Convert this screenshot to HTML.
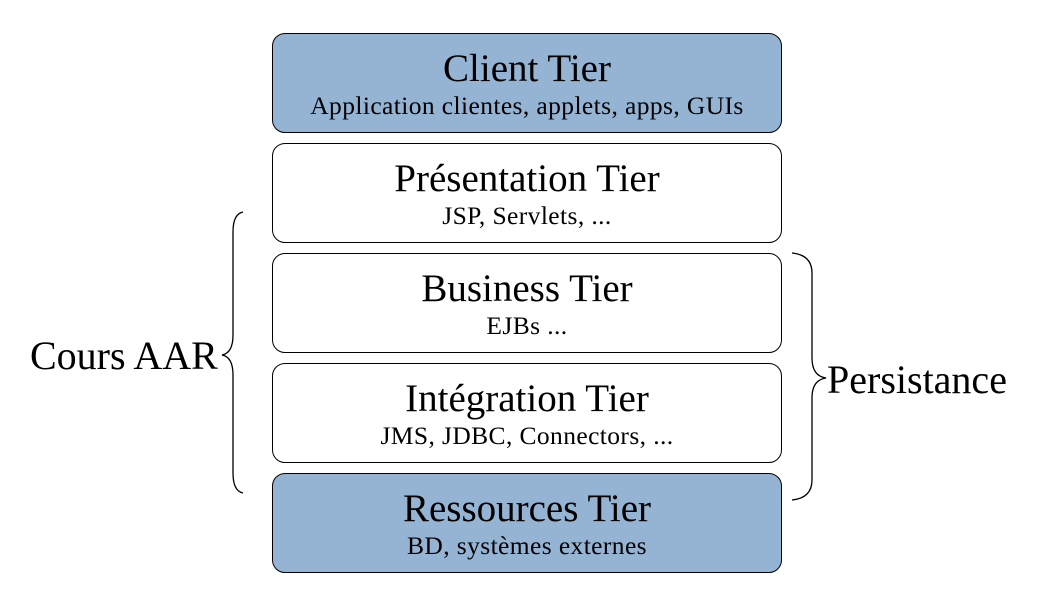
<!DOCTYPE html>
<html><head><style>
body{margin:0;width:1044px;height:594px;background:#fff;position:relative;font-family:"Liberation Serif",serif;color:#000;overflow:hidden}
.b{position:absolute;left:272px;width:508px;height:98px;border:1px solid #000;border-radius:13px;background:#fff;text-align:center}
.f{background:#95b3d3}
.t{position:absolute;left:-20px;right:-20px;top:13px;font-size:39px;line-height:44px;white-space:nowrap}
.s{position:absolute;left:-20px;right:-20px;top:58px;font-size:25.5px;line-height:28px;white-space:nowrap;letter-spacing:0.4px}
.l{position:absolute;font-size:40px;line-height:44px;white-space:nowrap}
</style></head><body>
<div class="b f" style="top:33px"><div class="t">Client Tier</div><div class="s">Application clientes, applets, apps, GUIs</div></div>
<div class="b" style="top:143px"><div class="t">Présentation Tier</div><div class="s">JSP, Servlets, ...</div></div>
<div class="b" style="top:253px"><div class="t">Business Tier</div><div class="s">EJBs ...</div></div>
<div class="b" style="top:363px"><div class="t">Intégration Tier</div><div class="s">JMS, JDBC, Connectors, ...</div></div>
<div class="b f" style="top:473px"><div class="t">Ressources Tier</div><div class="s">BD, systèmes externes</div></div>
<svg width="1044" height="594" style="position:absolute;left:0;top:0" fill="none" stroke="#000" stroke-width="1.3">
<path d="M243,212 Q233,214 233,232 L233,335 Q233,353 222,355 Q233,357 233,375 L233,473 Q233,491 243,493"/>
<path d="M792,253 Q812,255 812,273 L812,358 Q812,376 826,378 Q812,380 812,398 L812,480 Q812,498 792,500"/>
</svg>
<div class="l" style="left:30px;top:334px">Cours AAR</div>
<div class="l" style="left:827px;top:358px">Persistance</div>
</body></html>
